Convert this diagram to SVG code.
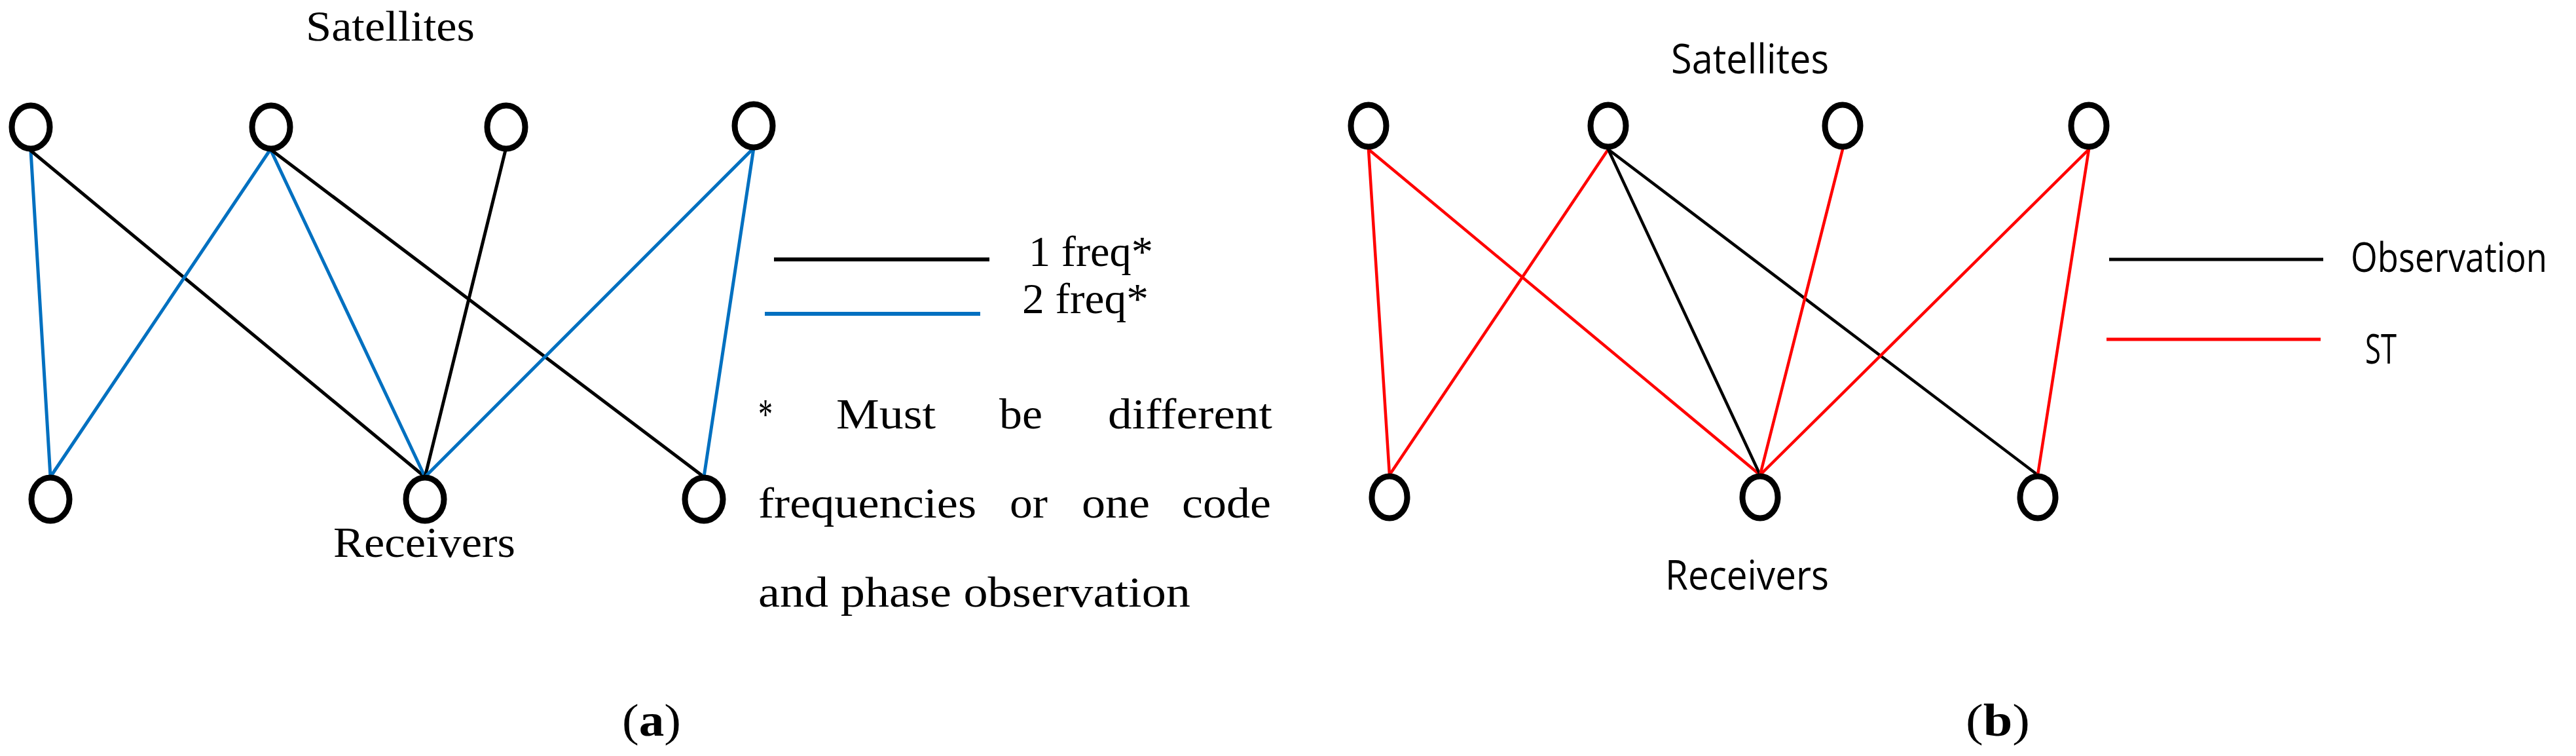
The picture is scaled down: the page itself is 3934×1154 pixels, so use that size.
<svg xmlns="http://www.w3.org/2000/svg" width="3934" height="1154" viewBox="0 0 3934 1154">
<style>
.node{fill:#fff;stroke:#000;stroke-width:9}
.ea{stroke-width:5;fill:none;stroke-linecap:round}
.eb{stroke-width:4.5;fill:none;stroke-linecap:round}
.k{stroke:#000}
.bl{stroke:#0070C0}
.rd{stroke:#FF0000}
.serif{font-family:"Liberation Serif","DejaVu Serif",serif;font-size:66px;fill:#000}
.sans{font-family:"Open Sans","Noto Sans","Liberation Sans",sans-serif;font-size:62px;fill:#000}
.lab{font-family:"Liberation Serif","DejaVu Serif",serif;font-size:70px;fill:#000}
</style>
<rect width="3934" height="1154" fill="#fff"/>
<g id="connectors">
  <line class="ea bl" x1="47" y1="230" x2="77" y2="728"/>
  <line class="ea k" x1="47" y1="230" x2="649" y2="728"/>
  <line class="ea bl" x1="413" y1="228" x2="77" y2="728"/>
  <line class="ea bl" x1="413" y1="228" x2="649" y2="728"/>
  <line class="ea k" x1="413" y1="228" x2="1075" y2="728"/>
  <line class="ea k" x1="772" y1="229" x2="649" y2="728"/>
  <line class="ea bl" x1="1151" y1="226" x2="649" y2="728"/>
  <line class="ea bl" x1="1151" y1="226" x2="1075" y2="728"/>
  <line class="eb rd" x1="2090" y1="228" x2="2122" y2="725"/>
  <line class="eb rd" x1="2090" y1="228" x2="2688" y2="725"/>
  <line class="eb rd" x1="2456" y1="228" x2="2122" y2="725"/>
  <line class="eb k" x1="2456" y1="228" x2="2688" y2="725"/>
  <line class="eb k" x1="2456" y1="228" x2="3112" y2="725"/>
  <line class="eb rd" x1="2814" y1="228" x2="2688" y2="725"/>
  <line class="eb rd" x1="3190" y1="228" x2="2688" y2="725"/>
  <line class="eb rd" x1="3190" y1="228" x2="3112" y2="725"/>
</g>
<g id="legend-a">
  <line x1="1182" y1="396" x2="1511" y2="396" stroke="#000" stroke-width="6"/>
  <line x1="1168" y1="479" x2="1497" y2="479" stroke="#0070C0" stroke-width="6"/>
  <text class="serif" x="1571" y="406" textLength="190" lengthAdjust="spacingAndGlyphs">1 freq*</text>
  <text class="serif" x="1561" y="478" textLength="193" lengthAdjust="spacingAndGlyphs">2 freq*</text>
</g>
<g id="footnote-a">
  <text class="serif" x="1158" y="654" textLength="22" lengthAdjust="spacingAndGlyphs">*</text>
  <text class="serif" x="1277" y="654" textLength="152" lengthAdjust="spacingAndGlyphs">Must</text>
  <text class="serif" x="1526" y="654" textLength="66" lengthAdjust="spacingAndGlyphs">be</text>
  <text class="serif" x="1692" y="654" textLength="251" lengthAdjust="spacingAndGlyphs">different</text>
  <text class="serif" x="1158" y="790" textLength="333" lengthAdjust="spacingAndGlyphs">frequencies</text>
  <text class="serif" x="1542" y="790" textLength="58" lengthAdjust="spacingAndGlyphs">or</text>
  <text class="serif" x="1652" y="790" textLength="104" lengthAdjust="spacingAndGlyphs">one</text>
  <text class="serif" x="1805" y="790" textLength="136" lengthAdjust="spacingAndGlyphs">code</text>
  <text class="serif" x="1158" y="926" textLength="660" lengthAdjust="spacingAndGlyphs">and phase observation</text>
</g>
<g id="titles-a">
  <text class="serif" x="467" y="62" textLength="258" lengthAdjust="spacingAndGlyphs">Satellites</text>
  <text class="serif" x="509" y="850" textLength="278" lengthAdjust="spacingAndGlyphs">Receivers</text>
  <text class="lab" x="950" y="1123" textLength="90" lengthAdjust="spacingAndGlyphs">(<tspan font-weight="bold">a</tspan>)</text>
</g>
<g id="sat-a1"><ellipse class="node" cx="47" cy="194" rx="29" ry="33"/></g>
<g id="sat-a2"><ellipse class="node" cx="414" cy="194" rx="29" ry="33"/></g>
<g id="sat-a3"><ellipse class="node" cx="773" cy="194" rx="29" ry="33"/></g>
<g id="sat-a4"><ellipse class="node" cx="1151" cy="192" rx="29" ry="33"/></g>
<g id="rec-a1"><ellipse class="node" cx="77" cy="762" rx="29" ry="33"/></g>
<g id="rec-a2"><ellipse class="node" cx="649" cy="762" rx="29" ry="33"/></g>
<g id="rec-a3"><ellipse class="node" cx="1075" cy="762" rx="29" ry="33"/></g>
<g id="legend-b">
  <line x1="3221" y1="396" x2="3548" y2="396" stroke="#000" stroke-width="5"/>
  <line x1="3217" y1="518" x2="3544" y2="518" stroke="#FF0000" stroke-width="5"/>
  <text class="sans" x="3590" y="415" font-size="60" textLength="300" lengthAdjust="spacingAndGlyphs">Observation</text>
  <text class="sans" x="3612" y="555" textLength="48" lengthAdjust="spacingAndGlyphs">ST</text>
</g>
<g id="titles-b">
  <text class="sans" x="2552" y="112" textLength="241" lengthAdjust="spacingAndGlyphs">Satellites</text>
  <text class="sans" x="2543" y="900" textLength="250" lengthAdjust="spacingAndGlyphs">Receivers</text>
  <text class="lab" x="3002" y="1123" textLength="98" lengthAdjust="spacingAndGlyphs">(<tspan font-weight="bold">b</tspan>)</text>
</g>
<g id="sat-b1"><ellipse class="node" cx="2090" cy="192" rx="27" ry="32"/></g>
<g id="sat-b2"><ellipse class="node" cx="2456" cy="192" rx="27" ry="32"/></g>
<g id="sat-b3"><ellipse class="node" cx="2814" cy="192" rx="27" ry="32"/></g>
<g id="sat-b4"><ellipse class="node" cx="3190" cy="192" rx="27" ry="32"/></g>
<g id="rec-b1"><ellipse class="node" cx="2122" cy="759" rx="27" ry="32"/></g>
<g id="rec-b2"><ellipse class="node" cx="2688" cy="759" rx="27" ry="32"/></g>
<g id="rec-b3"><ellipse class="node" cx="3112" cy="759" rx="27" ry="32"/></g>
</svg>
